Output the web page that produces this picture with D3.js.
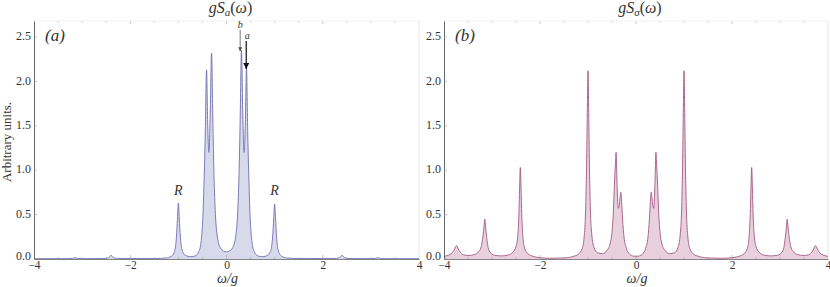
<!DOCTYPE html>
<meta charset="utf-8">
<style>
  body { margin: 0; background: #fff; }
  svg text { font-family: "Liberation Serif", "DejaVu Serif", serif; fill: #333; }
  .ital { font-style: italic; }
</style>
<body>
<script src="https://cdn.jsdelivr.net/npm/d3@7/dist/d3.min.js"></script>
<script>
// spectrum gS_a(w), points
var specA = [
  [-4.0, 0.003], [-3.3, 0.004], [-3.2, 0.007], [-3.15, 0.014], [-3.1, 0.007], [-3.0, 0.004],
  [-2.55, 0.005], [-2.47, 0.012], [-2.43, 0.025], [-2.4, 0.042], [-2.37, 0.025], [-2.33, 0.012], [-2.25, 0.006],
  [-1.5, 0.005], [-1.25, 0.012], [-1.15, 0.03], [-1.1, 0.06], [-1.06, 0.14], [-1.04, 0.25], [-1.02, 0.45],
  [-1.0, 0.63], [-0.98, 0.45], [-0.96, 0.26], [-0.94, 0.15], [-0.9, 0.07], [-0.85, 0.04], [-0.75, 0.026],
  [-0.65, 0.035], [-0.58, 0.08], [-0.54, 0.15], [-0.51, 0.3], [-0.485, 0.55], [-0.465, 0.9], [-0.44, 1.45],
  [-0.415, 2.13], [-0.39, 1.5], [-0.365, 1.2], [-0.34, 1.6], [-0.31, 2.32], [-0.285, 1.6], [-0.26, 0.95],
  [-0.23, 0.5], [-0.19, 0.25], [-0.13, 0.13], [-0.06, 0.09], [0, 0.08],
  [0.06, 0.09], [0.13, 0.13], [0.19, 0.25], [0.23, 0.5], [0.26, 0.95], [0.285, 1.6], [0.31, 2.35],
  [0.34, 1.6], [0.365, 1.2], [0.39, 1.5], [0.415, 2.15], [0.44, 1.45], [0.465, 0.9], [0.485, 0.55],
  [0.51, 0.3], [0.54, 0.15], [0.58, 0.08], [0.65, 0.035], [0.75, 0.026], [0.85, 0.04], [0.9, 0.07],
  [0.94, 0.15], [0.96, 0.26], [0.98, 0.45], [1.0, 0.62], [1.02, 0.45], [1.04, 0.25], [1.06, 0.14],
  [1.1, 0.06], [1.15, 0.03], [1.25, 0.012], [1.5, 0.005],
  [2.25, 0.006], [2.33, 0.012], [2.37, 0.025], [2.4, 0.042], [2.43, 0.025], [2.47, 0.012], [2.55, 0.005],
  [3.0, 0.004], [3.1, 0.007], [3.15, 0.014], [3.2, 0.007], [3.3, 0.004], [4.0, 0.003]
];

// spectrum gS_sigma(w), points
var specB = [
  [-4.0, 0.03], [-3.9, 0.045], [-3.83, 0.07], [-3.79, 0.1], [-3.76, 0.135], [-3.74, 0.15], [-3.72, 0.135],
  [-3.69, 0.1], [-3.65, 0.07], [-3.58, 0.045], [-3.48, 0.04], [-3.37, 0.05], [-3.28, 0.08], [-3.22, 0.15],
  [-3.19, 0.25], [-3.165, 0.37], [-3.15, 0.45], [-3.135, 0.37], [-3.11, 0.24], [-3.08, 0.13], [-3.03, 0.07],
  [-2.93, 0.04], [-2.8, 0.035], [-2.66, 0.045], [-2.56, 0.08], [-2.5, 0.14], [-2.46, 0.28], [-2.44, 0.5],
  [-2.425, 0.8], [-2.41, 1.03], [-2.395, 0.8], [-2.38, 0.5], [-2.36, 0.28], [-2.33, 0.14], [-2.27, 0.07],
  [-2.17, 0.035], [-2.0, 0.015], [-1.8, 0.008], [-1.5, 0.012], [-1.3, 0.03], [-1.2, 0.055], [-1.12, 0.12],
  [-1.08, 0.25], [-1.05, 0.55], [-1.03, 1.05], [-1.015, 1.65], [-1.0, 2.12], [-0.985, 1.65], [-0.97, 1.05],
  [-0.95, 0.55], [-0.92, 0.27], [-0.88, 0.14], [-0.8, 0.07], [-0.7, 0.06], [-0.6, 0.1], [-0.54, 0.17],
  [-0.5, 0.3], [-0.47, 0.55], [-0.445, 0.9], [-0.43, 1.05], [-0.415, 1.2], [-0.4, 0.95], [-0.385, 0.7],
  [-0.37, 0.57], [-0.35, 0.6], [-0.33, 0.7], [-0.315, 0.75], [-0.3, 0.65], [-0.28, 0.45], [-0.25, 0.25],
  [-0.2, 0.12], [-0.14, 0.06], [-0.07, 0.035], [0, 0.03],
  [0.07, 0.035], [0.14, 0.06], [0.2, 0.12], [0.25, 0.25], [0.28, 0.45], [0.3, 0.65], [0.315, 0.75],
  [0.33, 0.7], [0.35, 0.6], [0.37, 0.57], [0.385, 0.7], [0.4, 0.95], [0.415, 1.2], [0.43, 1.05],
  [0.445, 0.9], [0.47, 0.55], [0.5, 0.3], [0.54, 0.17], [0.6, 0.1], [0.7, 0.06], [0.8, 0.07],
  [0.88, 0.14], [0.92, 0.27], [0.95, 0.55], [0.97, 1.05], [0.985, 1.65], [1.0, 2.12], [1.015, 1.65],
  [1.03, 1.05], [1.05, 0.55], [1.08, 0.25], [1.12, 0.12], [1.2, 0.055], [1.3, 0.03], [1.5, 0.012],
  [1.8, 0.008], [2.0, 0.015], [2.17, 0.035], [2.27, 0.07], [2.33, 0.14], [2.36, 0.28], [2.38, 0.5],
  [2.395, 0.8], [2.41, 1.03], [2.425, 0.8], [2.44, 0.5], [2.46, 0.28], [2.5, 0.14], [2.56, 0.08],
  [2.66, 0.045], [2.8, 0.035], [2.93, 0.04], [3.03, 0.07], [3.08, 0.13], [3.11, 0.24], [3.135, 0.37],
  [3.15, 0.45], [3.165, 0.37], [3.19, 0.25], [3.22, 0.15], [3.28, 0.08], [3.37, 0.05], [3.48, 0.04],
  [3.58, 0.045], [3.65, 0.07], [3.69, 0.1], [3.72, 0.135], [3.74, 0.15], [3.76, 0.135], [3.79, 0.1],
  [3.83, 0.07], [3.9, 0.045], [4.0, 0.03]
];

var xTicks = [-4, -2, 0, 2, 4];
var yTicks = [0, 0.5, 1.0, 1.5, 2.0, 2.5];
var rLabels = [[-1.0, "R"], [1.0, "R"]];   // Rabi peaks in panel (a)
var arrowsA = [["b", 0.284, 2.35], ["a", 0.41, 2.15]];

var W = 830, H = 287;
var FONT = "'Liberation Serif', 'DejaVu Serif', serif";
var svg = d3.select("body").append("svg").attr("width", W).attr("height", H);

var defs = svg.append("defs");
defs.append("marker").attr("id", "headB").attr("viewBox", "0 0 6 6")
  .attr("refX", 6).attr("refY", 3).attr("markerWidth", 5).attr("markerHeight", 5)
  .attr("orient", "auto")
  .append("path").attr("d", "M0,0L6,3L0,6Z").attr("fill", "#555");
defs.append("marker").attr("id", "headA").attr("viewBox", "0 0 6 6")
  .attr("refX", 6).attr("refY", 3).attr("markerWidth", 5).attr("markerHeight", 5)
  .attr("orient", "auto")
  .append("path").attr("d", "M0,0L6,3L0,6Z").attr("fill", "#111");

function panel(opt) {
  var x = d3.scaleLinear().domain([-4, 4]).range([opt.x0, opt.x1]);
  var y = d3.scaleLinear().domain([0, 2.68]).range([259, 21]);
  var g = svg.append("g");

  // faint frame top/right
  g.append("line").attr("x1", opt.x0).attr("x2", opt.x1).attr("y1", 21).attr("y2", 21)
    .attr("stroke", "#f2f2f2");
  g.append("line").attr("x1", opt.x1).attr("x2", opt.x1).attr("y1", 21).attr("y2", 259)
    .attr("stroke", "#e6e6e6");
  // top ticks
  g.selectAll(".tt").data(d3.range(-3.5, 4, 0.5)).enter().append("line")
    .attr("x1", function(d) { return x(d); }).attr("x2", function(d) { return x(d); })
    .attr("y1", 21).attr("y2", function(d) { return d % 2 === 0 ? 24 : 22.5; })
    .attr("stroke", "#ccc");

  var area = d3.area()
    .x(function(d) { return x(d[0]); })
    .y0(y(0))
    .y1(function(d) { return y(d[1]); })
    .curve(d3.curveMonotoneX);
  var line = d3.line()
    .x(function(d) { return x(d[0]); })
    .y(function(d) { return y(d[1]); })
    .curve(d3.curveMonotoneX);

  g.append("path").datum(opt.data).attr("d", area).attr("fill", opt.fill);
  g.append("path").datum(opt.data).attr("d", line).attr("fill", "none")
    .attr("stroke", opt.stroke).attr("stroke-width", 0.9);

  // axes
  var ax = d3.axisBottom(x).tickValues(xTicks).tickSize(0).tickPadding(2)
    .tickFormat(d3.format("d"));
  var gx = g.append("g").attr("transform", "translate(0,259)").call(ax)
    .attr("font-family", FONT).attr("font-size", 11.5);
  gx.select(".domain").attr("stroke", "#666").attr("stroke-width", 0.8);
  gx.selectAll("text").attr("fill", "#333");
  g.selectAll(".bt").data(d3.range(-3.5, 4, 0.5)).enter().append("line")
    .attr("x1", function(d) { return x(d); }).attr("x2", function(d) { return x(d); })
    .attr("y1", 259).attr("y2", function(d) { return d % 2 === 0 ? 255 : 257; })
    .attr("stroke", "#999").attr("stroke-width", 0.6);

  var ay = d3.axisLeft(y).tickValues(yTicks).tickSize(0).tickPadding(3)
    .tickFormat(d3.format(".1f"));
  var gy = g.append("g").attr("transform", "translate(" + opt.x0 + ",0)").call(ay)
    .attr("font-family", FONT).attr("font-size", 12);
  gy.select(".domain").attr("stroke", "#555").attr("stroke-width", 0.9);
  gy.selectAll("text").attr("fill", "#333")
    .attr("dy", function(d) { return d === 0 ? "0.02em" : "0.22em"; });
  g.selectAll(".lt").data(yTicks).enter().append("line")
    .attr("x1", opt.x0).attr("x2", opt.x0 + 3)
    .attr("y1", function(d) { return y(d); }).attr("y2", function(d) { return y(d); })
    .attr("stroke", "#999").attr("stroke-width", 0.6);

  // title and axis label
  g.append("text").attr("x", x(0) + 4).attr("y", 13).attr("text-anchor", "middle")
    .attr("font-size", 16).html(opt.title);
  g.append("text").attr("x", x(0) + 1).attr("y", 282.5).attr("text-anchor", "middle")
    .attr("font-size", 14).attr("class", "ital").text("\u03c9/g");
  g.append("text").attr("x", opt.x0 + 11).attr("y", 41).attr("class", "ital")
    .attr("font-size", 17).text(opt.tag);

  return { x: x, y: y, g: g };
}

var pa = panel({ x0: 34, x1: 419, data: specA, fill: "#d9d9ec", stroke: "#6f6fb0",
  tag: "(a)", title: "<tspan font-style='italic'>gS</tspan><tspan font-style='italic' font-size='11' dy='3'>a</tspan><tspan dy='-3'>(</tspan><tspan font-style='italic'>\u03c9</tspan>)" });
var pb = panel({ x0: 444, x1: 828, data: specB, fill: "#e8d1dd", stroke: "#a35883",
  tag: "(b)", title: "<tspan font-style='italic'>gS</tspan><tspan font-style='italic' font-size='11' dy='3'>\u03c3</tspan><tspan dy='-3'>(</tspan><tspan font-style='italic'>\u03c9</tspan>)" });

svg.append("text").attr("transform", "translate(11,142) rotate(-90)")
  .attr("text-anchor", "middle").attr("font-size", 13).text("Arbitrary units.");

pa.g.selectAll(".rl").data(rLabels).enter().append("text")
  .attr("class", "ital").attr("font-size", 14).attr("text-anchor", "middle")
  .attr("x", function(d) { return pa.x(d[0]); })
  .attr("y", pa.y(0.72))
  .text(function(d) { return d[1]; });

arrowsA.forEach(function(d, i) {
  var top = i === 0 ? 30 : 41;
  pa.g.append("line").attr("x1", pa.x(d[1])).attr("x2", pa.x(d[1]))
    .attr("y1", top).attr("y2", pa.y(d[2]) + 1)
    .attr("stroke", i === 0 ? "#555" : "#111").attr("stroke-width", i === 0 ? 0.8 : 1.2)
    .attr("marker-end", i === 0 ? "url(#headB)" : "url(#headA)");
  pa.g.append("text").attr("class", "ital").attr("font-size", 10).attr("text-anchor", "middle")
    .attr("x", pa.x(d[1]) + (i === 0 ? 0 : 1)).attr("y", top - 2).text(d[0]);
});
</script>
</body>
